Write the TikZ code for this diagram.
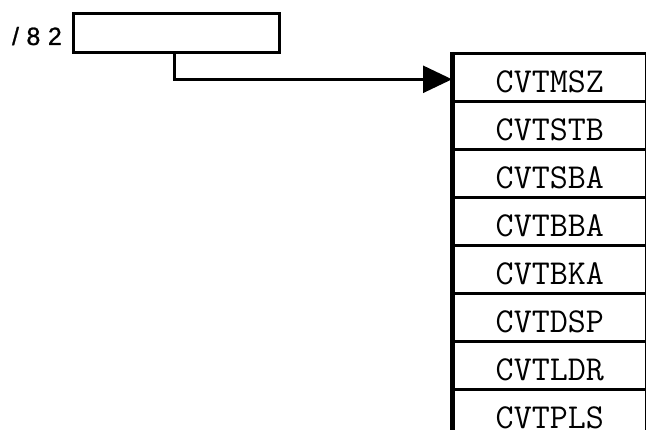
\documentclass[tikz,border=0pt]{standalone}
\usepackage{fontspec}
\newfontfamily\lblfont[LetterSpace=30,FakeBold=1]{Liberation Sans}
\usetikzlibrary{arrows.meta}
\begin{document}
\begin{tikzpicture}[x=1pt,y=-1pt,
  boxline/.style={draw=black,line width=2.6pt},
  rowbox/.style={boxline,minimum width=193pt,text height=39pt,text depth=9pt,inner sep=0pt,anchor=north west,
    font=\ttfamily\fontsize{35}{35}\selectfont\addfontfeatures{LetterSpace=6,FakeBold=1.2}},
  topbox/.style={boxline,minimum width=206pt,minimum height=39pt,inner sep=0pt,anchor=north west},
  conn/.style={line width=2.6pt,-{Triangle[length=29pt,width=27pt]}}]
\useasboundingbox (0,0) rectangle (646,430);
\clip (0,0) rectangle (646,430);
\node[topbox] (top) at (72,12) {};
\node[anchor=base east,inner sep=0pt,font=\lblfont\fontsize{25}{25}\selectfont] (lbl) at (62,45) {/82};
\node[rowbox] (r1) at (452,52) {CVTMSZ};
\node[rowbox] (r2) at (452,100) {CVTSTB};
\node[rowbox] (r3) at (452,148) {CVTSBA};
\node[rowbox] (r4) at (452,196) {CVTBBA};
\node[rowbox] (r5) at (452,244) {CVTBKA};
\node[rowbox] (r6) at (452,292) {CVTDSP};
\node[rowbox] (r7) at (452,340) {CVTLDR};
\node[rowbox] (r8) at (452,388) {CVTPLS};
\draw[line width=3.5pt] (r1.north west) -- (r8.south west);
\draw[conn] ([xshift=-2pt]top.south) |- ([yshift=-2pt]r1.west);
\end{tikzpicture}
\end{document}
